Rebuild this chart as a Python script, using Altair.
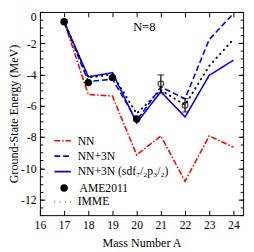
import altair as alt
import pandas as pd

# ---------------- data ----------------
A = [17, 18, 19, 20, 21, 22, 23, 24]
nn = [-0.62, -5.28, -5.38, -9.15, -7.93, -10.83, -7.93, -8.65]
nn3n = [-0.62, -4.45, -4.3, -6.95, -4.8, -5.55, -1.76, -0.1]
nn3n_sdf = [-0.62, -4.15, -3.88, -7.1, -5.1, -6.72, -4.05, -3.09]
imme = [-0.62, -4.2, -4.0, -6.5, -5.0, -5.95, -3.45, -1.75]
series_names = ["NN", "NN+3N", "NN+3N (sdf₇/₂p₃/₂)"]
series_colors = ["#ff0000", "#0000ff", "#0000ff"]
series_dash = [[6, 2, 1.5, 2], [6, 3], [1, 0]]

ame_A = [17, 18, 19, 20]
ame_E = [-0.62, -4.52, -4.2, -6.85]
ext_A = [21, 22]
ext_E = [-4.6, -5.97]
ext_err = [0.57, 0.43]

x_ticks = [16, 17, 18, 19, 20, 21, 22, 23, 24]
y_major = [-12, -10, -8, -6, -4, -2, 0]
y_minor = [v / 2 for v in range(-26, 1)]
x_domain = [16, 24.4]
y_domain = [-13, 0]

label_text = ["N=8"]
label_A = [20.32]
label_E = [-1.0]

W, H = 210, 210
FONT = "Liberation Serif"

# ---------------- frames ----------------
lines_df = pd.DataFrame(
    [{"A": a, "E": e, "series": s}
     for s, vals in zip(series_names, [nn, nn3n, nn3n_sdf])
     for a, e in zip(A, vals)]
)
imme_df = pd.DataFrame({"A": A, "E": imme, "src": ["IMME"] * len(A)})
ame_df = pd.DataFrame({"A": ame_A, "E": ame_E, "src": ["AME2011"] * len(ame_A)})
ext_df = pd.DataFrame({
    "A": ext_A, "E": ext_E,
    "lo": [e - d for e, d in zip(ext_E, ext_err)],
    "hi": [e + d for e, d in zip(ext_E, ext_err)],
})
txt_df = pd.DataFrame({"A": label_A, "E": label_E, "t": label_text})

xs = alt.Scale(domain=x_domain, nice=False, zero=False)
ys = alt.Scale(domain=y_domain, nice=False, zero=False)


def tick_axis(orient, values, size):
    return alt.Axis(orient=orient, offset=-(H if orient in ("top", "bottom") else W),
                    values=values, labels=False, ticks=True, tickSize=size,
                    tickColor="black", tickWidth=1, domain=False, grid=False,
                    title=None)


main_x = alt.Axis(orient="bottom", values=x_ticks, ticks=False, domain=False,
                  grid=False, labelFont=FONT, labelFontSize=12, labelColor="black",
                  labelPadding=5, labelFlush=False, title="Mass Number A",
                  titleFont=FONT, titleFontSize=12.5, titleFontWeight="normal",
                  titleColor="black", titlePadding=6)
main_y = alt.Axis(orient="left", values=y_major, ticks=False, domain=False,
                  grid=False, labelFont=FONT, labelFontSize=12, labelColor="black",
                  labelPadding=4, labelExpr="'' + datum.value", labelFlush=1,
                  title="Ground-State Energy (MeV)", titleFont=FONT,
                  titleFontSize=12.5, titleFontWeight="normal", titleColor="black",
                  titlePadding=0)

leg_common = dict(orient="none", title=None, labelFont=FONT, labelFontSize=12,
                  labelColor="black", padding=0)

line_legend = dict(legendX=14, legendY=123.5, symbolType="stroke", symbolSize=289,
                   symbolStrokeWidth=1.6, labelOffset=6, rowPadding=-4.5, **leg_common)

lines = alt.Chart(lines_df).mark_line(strokeWidth=1.6).encode(
    x=alt.X("A:Q", scale=xs, axis=main_x),
    y=alt.Y("E:Q", scale=ys, axis=main_y),
    color=alt.Color("series:N", scale=alt.Scale(domain=series_names, range=series_colors),
                    legend=alt.Legend(**line_legend)),
    strokeDash=alt.StrokeDash("series:N", scale=alt.Scale(domain=series_names, range=series_dash),
                              legend=alt.Legend(**line_legend)),
)

imme_line = alt.Chart(imme_df).mark_line(color="black", strokeWidth=2, strokeCap="round").encode(
    x=alt.X("A:Q", scale=xs, axis=tick_axis("bottom", x_ticks, 5)),
    y=alt.Y("E:Q", scale=ys, axis=tick_axis("left", y_major, 5)),
    strokeDash=alt.StrokeDash("src:N", scale=alt.Scale(range=[[0.5, 5]]),
                              legend=alt.Legend(legendX=14, legendY=186.5, symbolType="stroke",
                                                symbolSize=289, symbolStrokeWidth=2,
                                                labelOffset=6, **leg_common)),
)

err_rule = alt.Chart(ext_df).mark_rule(color="black", strokeWidth=1.2).encode(
    x=alt.X("A:Q", scale=xs, axis=tick_axis("top", x_ticks, 5)),
    y=alt.Y("lo:Q", scale=ys, axis=tick_axis("right", y_major, 5)),
    y2="hi:Q",
)

err_caps = alt.Chart(ext_df).transform_fold(["lo", "hi"], as_=["k", "v"]).mark_tick(
    color="black", orient="horizontal", size=7, thickness=1.2).encode(
    x=alt.X("A:Q", scale=xs, axis=None),
    y=alt.Y("v:Q", scale=ys, axis=tick_axis("right", y_minor, 3)),
)

open_pts = alt.Chart(ext_df).mark_point(color="black", size=34, strokeWidth=1.3,
                                        filled=False).encode(
    x=alt.X("A:Q", scale=xs, axis=None),
    y=alt.Y("E:Q", scale=ys, axis=tick_axis("left", y_minor, 3)),
)

ame_pts = alt.Chart(ame_df).mark_point(filled=True, size=60, opacity=1).encode(
    x=alt.X("A:Q", scale=xs, axis=None),
    y=alt.Y("E:Q", scale=ys, axis=None),
    color=alt.Color("src:N", scale=alt.Scale(range=["black"]),
                    legend=alt.Legend(legendX=19, legendY=176, symbolType="circle",
                                      symbolSize=60, labelOffset=10, **leg_common)),
)

txt = alt.Chart(txt_df).mark_text(font=FONT, fontSize=13, color="black").encode(
    x=alt.X("A:Q", scale=xs, axis=None),
    y=alt.Y("E:Q", scale=ys, axis=None),
    text="t:N",
)

chart = alt.layer(lines, imme_line, err_rule, err_caps, open_pts, ame_pts, txt).resolve_scale(
    color="independent", strokeDash="independent"
).resolve_axis(x="independent", y="independent").properties(
    width=W, height=H,
    padding={"left": 33, "top": 0, "right": 3, "bottom": 35},
    autosize=alt.AutoSizeParams(type="none"),
    background="white",
).configure_view(stroke="black", strokeWidth=1)

chart.save("out.html", embed_options={"renderer": "svg", "actions": False})
